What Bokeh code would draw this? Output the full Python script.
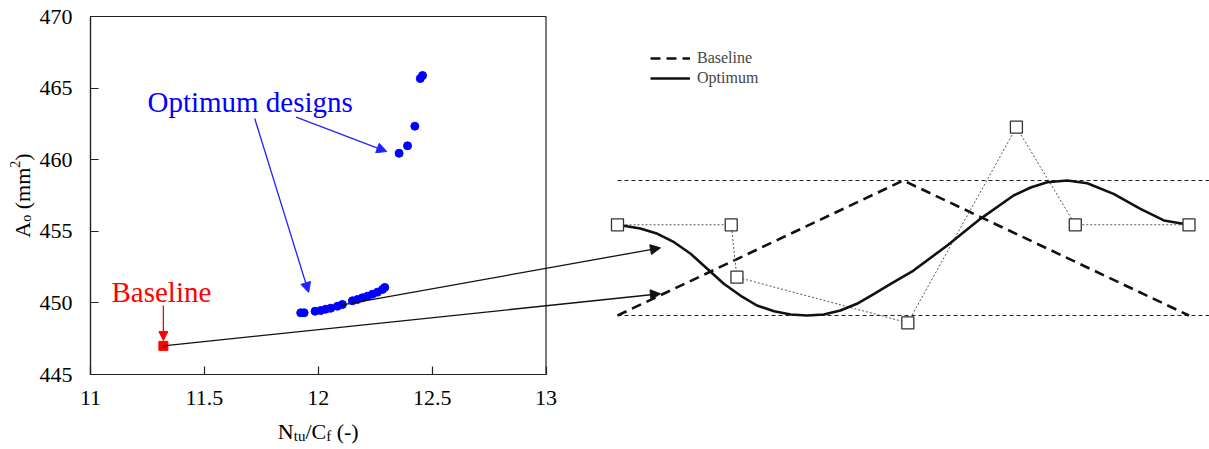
import math
from bokeh.plotting import figure
from bokeh.models import (Range1d, FixedTicker, Label, Arrow, NormalHead,
                          Legend, LegendItem, LinearAxis)
from bokeh.embed import file_html
from bokeh.resources import INLINE

# ---------------- data: scatter (N_tu/C_f vs A_o) ----------------
baseline_x = [11.32]
baseline_y = [447.0]
opt_x = [11.923, 11.938, 11.986, 12.011, 12.033, 12.055, 12.084, 12.106,
         12.150, 12.172, 12.194, 12.216, 12.238, 12.260, 12.282, 12.292,
         12.355, 12.392, 12.424, 12.448, 12.458]
opt_y = [449.31, 449.31, 449.42, 449.47, 449.56, 449.63, 449.77, 449.89,
         450.15, 450.24, 450.36, 450.47, 450.61, 450.75, 450.94, 451.08,
         460.45, 460.97, 462.34, 465.67, 465.88]
x_ticks = [11, 11.5, 12, 12.5, 13]
x_tick_labels = ["11", "11.5", "12", "12.5", "13"]
y_ticks = [445, 450, 455, 460, 465, 470]
y_tick_labels = ["445", "450", "455", "460", "465", "470"]

# ---------------- data: shape diagram (normalised units) ----------------
ctrl_u = [0.0, 0.199, 0.209, 0.508, 0.698, 0.801, 1.0]
ctrl_v = [0.672, 0.672, 0.284, -0.054, 1.395, 0.672, 0.672]
base_u = [0.0, 0.5, 1.0]
base_v = [0.0, 1.0, 0.0]
bound_v = [0.0, 1.0]
bound_u0 = [0.0, 0.0]
bound_u1 = [1.05, 1.05]
curve_u = [0.000, 0.040, 0.070, 0.099, 0.128, 0.157, 0.186, 0.215, 0.244,
           0.274, 0.303, 0.332, 0.361, 0.390, 0.419, 0.449, 0.478, 0.518,
           0.577, 0.635, 0.693, 0.723, 0.752, 0.787, 0.822, 0.868, 0.915,
           0.956, 1.000]
curve_v = [0.672, 0.644, 0.605, 0.543, 0.457, 0.346, 0.235, 0.148, 0.074,
           0.032, 0.007, 0.000, 0.007, 0.037, 0.087, 0.161, 0.235, 0.333,
           0.519, 0.716, 0.889, 0.948, 0.987, 1.000, 0.980, 0.901, 0.790,
           0.704, 0.672]
# arrow targets on the diagram
arrow_end_u = [0.0752, 0.0752]
arrow_end_v = [0.161, 0.501]
arrow_start_x = [11.32, 12.10]
arrow_start_y = [447.0, 449.85]

# ---------------- layout ----------------
W, H = 1209, 449
BOX_L, BOX_R, BOX_T, BOX_B = 90.0, 545.5, 16.0, 374.0     # scatter box in px
sx = (BOX_R - BOX_L) / (x_ticks[-1] - x_ticks[0])
sy = (BOX_B - BOX_T) / (y_ticks[-1] - y_ticks[0])
x0 = x_ticks[0] - BOX_L / sx
y1 = y_ticks[-1] + BOX_T / sy
x_range = Range1d(x0, x0 + W / sx)
y_range = Range1d(y1 - H / sy, y1)
DU, DV = 571.5, 135.0            # diagram unit sizes in px
D_L, D_B = 617.0, 315.0          # diagram origin in px
u0 = -D_L / DU
v0 = -(H - D_B) / DV
u_range = Range1d(u0, u0 + W / DU)
v_range = Range1d(v0, v0 + H / DV)


def d2x(u):
    return x_range.start + (u - u_range.start) * (x_range.end - x_range.start) / (u_range.end - u_range.start)


def d2y(v):
    return y_range.start + (v - v_range.start) * (y_range.end - y_range.start) / (v_range.end - v_range.start)


FONT = "Liberation Serif"

p = figure(width=W, height=H, x_range=x_range, y_range=y_range,
           output_backend="svg", toolbar_location=None,
           x_axis_location=None, y_axis_location=None,
           min_border_left=0, min_border_right=0,
           min_border_top=0, min_border_bottom=0)
p.extra_x_ranges = {"d": u_range}
p.extra_y_ranges = {"d": v_range}
p.outline_line_color = None
p.background_fill_color = "white"
p.border_fill_color = "white"

xax = LinearAxis(fixed_location=y_ticks[0])
yax = LinearAxis(fixed_location=x_ticks[0])
p.add_layout(xax, "below")
p.add_layout(yax, "left")
p.xgrid.visible = False
p.ygrid.visible = False

for ax, ticks, labels in ((xax, x_ticks, x_tick_labels), (yax, y_ticks, y_tick_labels)):
    ax.ticker = FixedTicker(ticks=ticks)
    ax.major_label_overrides = {t: l for t, l in zip(ticks, labels)}
    ax.bounds = (ticks[0], ticks[-1])
    ax.major_tick_in = 8
    ax.major_tick_out = 0
    ax.minor_tick_line_color = None
    ax.axis_line_color = "#222222"
    ax.axis_line_width = 1.2
    ax.major_tick_line_color = "#222222"
    ax.major_tick_line_width = 1.2
    ax.major_label_text_font = FONT
    ax.major_label_text_font_size = "22px"
    ax.major_label_text_color = "black"
xax.major_label_standoff = 16
yax.major_label_standoff = 18

# scatter box (top and right edges)
p.quad(left=[x_ticks[0]], right=[x_ticks[-1]], bottom=[y_ticks[0]], top=[y_ticks[-1]],
       fill_color=None, line_color="#222222", line_width=1.2)

# scatter points
p.scatter(opt_x, opt_y, marker="circle", size=8, color="#0000ff")
p.scatter(baseline_x, baseline_y, marker="square", size=9, color="#ff0000")

# diagram
p.segment(x0=bound_u0, y0=bound_v, x1=bound_u1, y1=bound_v, line_color="#222222",
          line_width=1, line_dash="4 3", x_range_name="d", y_range_name="d")
base_r = p.line(base_u, base_v, line_color="#111111", line_width=2.6, line_dash="10 6",
                x_range_name="d", y_range_name="d")
p.line(ctrl_u, ctrl_v, line_color="#555555", line_width=1, line_dash="2 2",
       x_range_name="d", y_range_name="d")
curve_r = p.line(curve_u, curve_v, line_color="#111111", line_width=2.6,
                 x_range_name="d", y_range_name="d")
p.scatter(ctrl_u, ctrl_v, marker="square", size=12, fill_color="white",
          line_color="#333333", line_width=1.3, x_range_name="d", y_range_name="d")

legend = Legend(items=[LegendItem(label="Baseline", renderers=[base_r]),
                       LegendItem(label="Optimum", renderers=[curve_r])],
                location=(650, 361), padding=0, margin=0, spacing=0,
                glyph_width=40, glyph_height=20, label_height=20,
                label_standoff=7, label_text_font=FONT,
                label_text_font_size="16px", border_line_alpha=0,
                background_fill_alpha=0)
p.add_layout(legend)

# arrows from designs to the diagram
for xs, ys, eu, ev in zip(arrow_start_x, arrow_start_y, arrow_end_u, arrow_end_v):
    p.add_layout(Arrow(x_start=xs, y_start=ys, x_end=d2x(eu), y_end=d2y(ev),
                       line_color="#111111", line_width=1.3,
                       end=NormalHead(size=10, fill_color="#111111", line_color="#111111")))

# blue annotation arrows
for (xa, ya, xb, yb) in ((11.903, 462.97, 12.301, 460.57), (11.721, 462.88, 11.958, 450.73)):
    p.add_layout(Arrow(x_start=xa, y_start=ya, x_end=xb, y_end=yb,
                       line_color="#2222ff", line_width=1.3,
                       end=NormalHead(size=10, fill_color="#2222ff", line_color="#2222ff")))
# red annotation arrow
p.add_layout(Arrow(x_start=11.32, y_start=449.82, x_end=11.32, y_end=447.37,
                   line_color="#ff0000", line_width=1.3,
                   end=NormalHead(size=9, fill_color="#ff0000", line_color="#ff0000")))

p.add_layout(Label(x=11.25, y=464.0, text="Optimum designs", text_color="#0000ff",
                   text_font=FONT, text_font_size="29px", text_baseline="alphabetic"))
p.add_layout(Label(x=11.092, y=450.75, text="Baseline", text_color="#ff0000",
                   text_font=FONT, text_font_size="29px", text_baseline="alphabetic"))

# axis titles with sub/superscripts
NB = "\u00a0"
ADV = {'A': 722, 'o': 500, NB: 250, '(': 333, 'm': 778, ')': 333, '2': 500,
       'N': 722, 't': 278, 'u': 500, '/': 278, 'C': 667, 'f': 333, '-': 333}


def tw(s, size):
    return sum(ADV[c] for c in s) * size / 1000.0


def rich_label(parts, x, y, along, base_off, angle):
    total = sum(tw(t, s) for t, s, _ in parts)
    pos = -total / 2
    for t, s, shift in parts:
        if along == "x":
            lab = Label(x=x, y=y, x_offset=pos, y_offset=base_off - shift, text=t)
        else:
            lab = Label(x=x, y=y, x_offset=base_off + shift, y_offset=pos, text=t,
                        angle=angle)
        lab.text_font = FONT
        lab.text_font_size = f"{s}px"
        lab.text_color = "black"
        lab.text_baseline = "alphabetic"
        lab.text_align = "left"
        p.add_layout(lab)
        pos += tw(t, s)


rich_label([("N", 22, 0), ("tu", 15, 4), ("/", 22, 0), ("C", 22, 0), ("f", 15, 4),
            (NB + "(-)", 22, 0)], 12.0, 445.0, "x", -57, 0)
rich_label([("A", 22, 0), ("o", 14, 4), (NB + "(mm", 22, 0), ("2", 14, -8), (")", 22, 0)],
           11.0, 457.5, "y", -68, math.pi / 2)

open("out.html", "w").write(file_html(p, INLINE))
